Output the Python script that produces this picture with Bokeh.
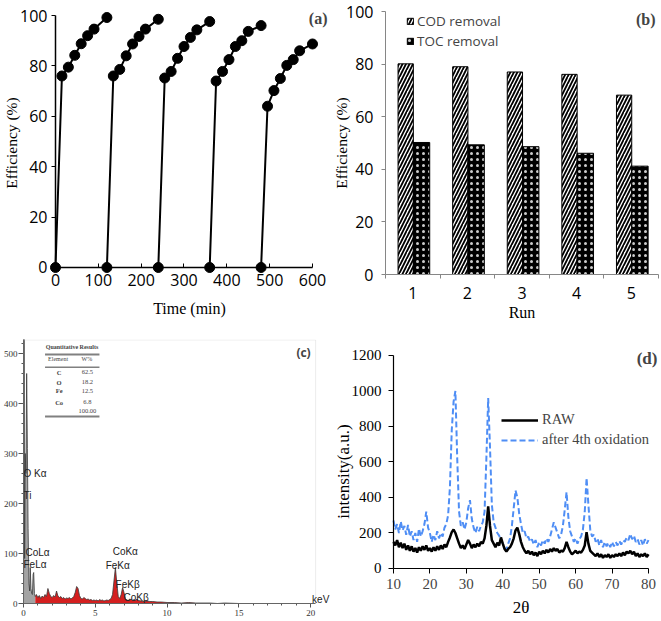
import numpy as np
from bokeh.plotting import figure
from bokeh.models import (Range1d, FixedTicker, SingleIntervalTicker, Label, LinearAxis,
                          Legend, LegendItem, BoxAnnotation)
from bokeh.layouts import column, row
from bokeh.embed import file_html
from bokeh.resources import INLINE

SANS = "Open Sans"
SERIF = "Liberation Serif"
NARROW = "Liberation Sans Narrow"

# ---------------- (a) cycles ----------------
cycle1_time = [0, 15, 30, 45, 60, 75, 90, 120]
cycle1_eff = [0, 76, 79.5, 84.2, 88.8, 92, 94.6, 99.2]
cycle2_time = [120, 135, 150, 165, 180, 195, 210, 240]
cycle2_eff = [0, 76, 78.6, 84, 88.7, 91.7, 94.6, 98.5]
cycle3_time = [240, 255, 270, 285, 300, 315, 330, 360]
cycle3_eff = [0, 75.2, 77.8, 83, 87.7, 91.3, 94.3, 97.6]
cycle4_time = [360, 375, 390, 405, 420, 435, 450, 480]
cycle4_eff = [0, 74, 77.8, 82.5, 87.7, 90, 93.7, 96]
cycle5_time = [480, 495, 510, 525, 540, 555, 570, 600]
cycle5_eff = [0, 64, 70.2, 75, 80.2, 82.5, 86, 88.7]
time_ticks = [0, 100, 200, 300, 400, 500, 600]
eff_ticks = [0, 20, 40, 60, 80, 100]

# ---------------- (b) removal ----------------
runs = [1, 2, 3, 4, 5]
cod_removal = [80.1, 79.0, 77.0, 76.1, 68.2]
toc_removal = [50.2, 49.3, 48.6, 46.1, 41.2]

# ---------------- (c) EDS ----------------
eds_kev = [0.0, 0.04, 0.08, 0.12, 0.17, 0.22, 0.27, 0.32, 0.38, 0.43,
           0.47, 0.52, 0.57, 0.62, 0.67, 0.71, 0.76, 0.82, 0.9, 1.0,
           1.1, 1.2, 1.3, 1.4, 1.5, 1.6, 1.7, 1.8, 1.9, 2.0,
           2.1, 2.2, 2.3, 2.4, 2.5, 2.6, 2.7, 2.8, 2.9, 3.0,
           3.1, 3.2, 3.3, 3.4, 3.5, 3.6, 3.7, 3.8, 3.9, 4.0,
           4.1, 4.2, 4.3, 4.4, 4.5, 4.6, 4.7, 4.8, 4.9, 5.0,
           5.1, 5.2, 5.3, 5.4, 5.5, 5.6, 5.7, 5.8, 5.9, 6.0,
           6.1, 6.2, 6.3, 6.4, 6.5, 6.6, 6.7, 6.8, 6.9, 7.0,
           7.1, 7.2, 7.3, 7.4, 7.5, 7.6, 7.7, 7.8, 7.9, 8.0,
           8.2, 8.4, 8.6, 8.8, 9.0, 9.3, 9.6, 10.0, 10.5, 11.0,
           11.5, 12.0, 12.5, 13.0, 13.5, 14.0, 15.0, 16.0, 17.0, 18.0,
           19.0, 20.0]
eds_counts = [0, 540, 90, 300, 260, 460, 310, 150, 40, 25,
              72, 30, 20, 18, 58, 62, 20, 14, 18, 12,
              16, 10, 15, 12, 18, 14, 30, 20, 14, 12,
              16, 13, 25, 15, 12, 14, 10, 12, 9, 11,
              10, 12, 9, 11, 14, 22, 34, 30, 16, 10,
              9, 12, 10, 8, 9, 7, 8, 6, 7, 6,
              7, 5, 8, 6, 7, 5, 6, 7, 6, 8,
              10, 18, 45, 72, 40, 14, 10, 18, 32, 22,
              10, 7, 6, 7, 9, 6, 8, 6, 9, 6,
              5, 4, 5, 4, 4, 3, 3, 2, 2, 1,
              2, 1, 1, 1, 0, 1, 0, 0, 0, 0,
              0, 0]
table_elements = ["C", "O", "Fe", "Co"]
table_wt = ["62.5", "18.2", "12.5", "6.8"]
table_total = "100.00"

# ---------------- (d) XRD ----------------
raw_intensity = [150, 130, 160, 120, 145, 115, 140, 105, 130, 100,
                 125, 95, 115, 90, 120, 100, 125, 105, 130, 100,
                 115, 95, 120, 100, 125, 105, 130, 110, 135, 120,
                 150, 175, 205, 220, 200, 170, 140, 115, 130, 110,
                 135, 160, 140, 115, 135, 120, 140, 125, 150, 140,
                 170, 240, 350, 240, 160, 140, 120, 145, 130, 175,
                 140, 110, 95, 110, 120, 140, 170, 215, 230, 195,
                 150, 120, 100, 85, 100, 80, 95, 75, 90, 70,
                 95, 80, 100, 85, 105, 90, 110, 95, 115, 100,
                 110, 90, 100, 95, 115, 150, 120, 95, 80, 90,
                 100, 85, 95, 90, 105, 130, 205, 140, 100, 90,
                 80, 70, 85, 65, 80, 60, 75, 65, 80, 60,
                 75, 65, 80, 70, 85, 70, 90, 75, 95, 85,
                 100, 80, 95, 70, 85, 65, 80, 70, 85, 65,
                 80]
oxidized_intensity = [270, 220, 250, 200, 265, 215, 240, 190, 245, 180,
                      210, 160, 200, 150, 225, 180, 210, 250, 320, 230,
                      200, 150, 190, 160, 210, 170, 200, 180, 230, 250,
                      300, 460, 780, 940, 1000, 620, 320, 240, 260, 220,
                      260, 340, 385, 280, 230, 200, 235, 210, 240, 260,
                      320, 620, 960, 680, 360, 260, 230, 200, 185, 160,
                      140, 115, 105, 140, 170, 240, 340, 440, 400, 310,
                      250, 200, 210, 170, 180, 150, 165, 135, 160, 120,
                      150, 130, 160, 140, 170, 150, 180, 220, 260, 230,
                      200, 170, 190, 240, 330, 430, 290, 210, 180, 150,
                      170, 140, 165, 180, 220, 320, 510, 360, 220, 180,
                      190, 150, 170, 130, 160, 120, 150, 125, 145, 120,
                      150, 125, 150, 130, 155, 135, 160, 150, 175, 160,
                      195, 165, 185, 150, 165, 135, 160, 130, 165, 140,
                      160]
two_theta = [10 + 0.5 * i for i in range(len(raw_intensity))]
theta_ticks = [10, 20, 30, 40, 50, 60, 70, 80]
intensity_ticks = [0, 200, 400, 600, 800, 1000, 1200]


def base_fig(w, h, xr, yr, left, right, top, bottom):
    p = figure(width=w, height=h, x_range=Range1d(*xr), y_range=Range1d(*yr),
               output_backend="svg", toolbar_location=None,
               min_border_left=left, min_border_right=right,
               min_border_top=top, min_border_bottom=bottom)
    p.grid.visible = False
    p.outline_line_color = None
    p.background_fill_color = "white"
    p.border_fill_color = "white"
    return p


def style_axis(ax, font, size, color="black", line_color="black"):
    ax.major_label_text_font = font
    ax.major_label_text_font_size = size
    ax.major_label_text_color = color
    ax.axis_line_color = line_color
    ax.major_tick_line_color = line_color
    ax.minor_tick_line_color = None
    ax.axis_label_text_font_style = "normal"
    ax.axis_label_text_color = "black"


def labels_only(ax):
    ax.axis_line_color = None
    ax.major_tick_line_color = None
    ax.minor_tick_line_color = None
    ax.major_tick_in = 0
    ax.major_tick_out = 0


# ================= panel (a) =================
pa = base_fig(330, 335, (-14.0, 639.7), (-2.78, 101.59), 49, 1, 11, 61)
for t, e in [(cycle1_time, cycle1_eff), (cycle2_time, cycle2_eff),
             (cycle3_time, cycle3_eff), (cycle4_time, cycle4_eff),
             (cycle5_time, cycle5_eff)]:
    pa.line(t, e, line_color="black", line_width=2)
    pa.scatter(t, e, size=10, fill_color="black", line_color="black")
xa = pa.xaxis[0]
ya = pa.yaxis[0]
style_axis(xa, SANS, "16px")
style_axis(ya, SANS, "16px")
labels_only(xa)
labels_only(ya)
xa.ticker = FixedTicker(ticks=time_ticks)
xa.major_label_standoff = -1
xa.axis_label = "Time (min)"
xa.axis_label_text_font = SERIF
xa.axis_label_text_font_size = "16px"
xa.axis_label_standoff = 11
ya.ticker = FixedTicker(ticks=eff_ticks)
ya.major_label_standoff = 2
ya.axis_label = "Efficiency (%)"
ya.axis_label_text_font = SERIF
ya.axis_label_text_font_size = "15.5px"
ya.axis_label_standoff = -3
# axis lines through the origin (line + ticks)
xa_line = LinearAxis(fixed_location=0, bounds=(0, 600), ticker=FixedTicker(ticks=time_ticks),
                     major_tick_in=4, major_tick_out=0, major_label_text_color=None,
                     axis_line_width=1.5, minor_tick_line_color=None)
ya_line = LinearAxis(fixed_location=0, bounds=(0, 100), ticker=FixedTicker(ticks=eff_ticks),
                     major_tick_in=0, major_tick_out=4, major_label_text_color=None,
                     axis_line_width=1.5, minor_tick_line_color=None)
pa.add_layout(xa_line, "below")
pa.add_layout(ya_line, "left")
pa.add_layout(Label(x=635, y=99.0, text="(a)", text_font=SERIF, text_font_size="16px",
                    text_font_style="bold", text_align="right", text_baseline="middle"))

# ================= panel (b) =================
pb = base_fig(330, 335, (0.5, 5.5), (0, 100), 55, 2, 11, 61)
cod = pb.vbar(x=[r - 0.13 for r in runs], top=cod_removal, width=0.28,
              fill_color="white", line_color="black", line_width=1,
              hatch_pattern="/", hatch_color="black", hatch_weight=1.8, hatch_scale=7)
toc = pb.vbar(x=[r + 0.16 for r in runs], top=toc_removal, width=0.30,
              fill_color="black", line_color="black", line_width=1,
              hatch_pattern=".", hatch_color="white", hatch_weight=1.2, hatch_scale=6,
              hatch_alpha=0.8)
xb = pb.xaxis[0]
yb = pb.yaxis[0]
style_axis(xb, SANS, "16px", line_color="#868686")
style_axis(yb, SANS, "16px", line_color="#868686")
xb.ticker = FixedTicker(ticks=runs, minor_ticks=[0.5, 1.5, 2.5, 3.5, 4.5, 5.5])
xb.major_tick_line_color = None
xb.major_tick_out = 0
xb.major_tick_in = 0
xb.minor_tick_line_color = "#868686"
xb.minor_tick_out = 4
xb.minor_tick_in = 0
xb.major_label_standoff = 8
xb.axis_label = "Run"
xb.axis_label_text_font = SERIF
xb.axis_label_text_font_size = "16px"
xb.axis_label_standoff = 2
yb.ticker = FixedTicker(ticks=eff_ticks)
yb.major_tick_out = 4
yb.major_tick_in = 0
yb.major_label_standoff = 8
yb.axis_label = "Efficiency (%)"
yb.axis_label_text_font = SERIF
yb.axis_label_text_font_size = "15.5px"
yb.axis_label_standoff = -7
leg_b = Legend(items=[LegendItem(label="COD removal", renderers=[cod]),
                      LegendItem(label="TOC removal", renderers=[toc])],
               location=(21, 224), glyph_width=8, glyph_height=8, label_height=14,
               spacing=2, label_standoff=3, padding=0, margin=0,
               label_text_font=SANS, label_text_font_size="13.5px",
               background_fill_alpha=0, border_line_color=None)
pb.add_layout(leg_b)
pb.add_layout(Label(x=5.445, y=96.96, text="(b)", text_font=SERIF, text_font_size="16px",
                    text_font_style="bold", text_align="right", text_baseline="middle"))

# ================= panel (c) =================
pc = base_fig(330, 285, (0, 21.38), (0, 528), 20, 0, 4, 17)
kev = np.array(eds_kev)
cnt = np.array(eds_counts)
lo = kev <= 0.82
hi = kev >= 0.82
pc.varea(x=kev[lo], y1=0, y2=cnt[lo], fill_color="#a3a3a3")
pc.varea(x=kev[hi], y1=0, y2=cnt[hi], fill_color="#d41f1f")
pc.line(eds_kev, eds_counts, line_color="#3a3a3a", line_width=0.8)
pc.add_layout(BoxAnnotation(left=0, right=20.34, bottom=0, top=527, fill_alpha=0,
                            line_color="#c4c4c4", line_width=1))
xc = pc.xaxis[0]
yc = pc.yaxis[0]
for ax in (xc, yc):
    style_axis(ax, NARROW, "9px", color="#333333", line_color="#555555")
    ax.minor_tick_line_color = "#555555"
    ax.major_tick_out = 4
    ax.major_tick_in = 0
    ax.minor_tick_out = 2
    ax.minor_tick_in = 0
xc.bounds = (0, 20.34)
xc.ticker = SingleIntervalTicker(interval=5, num_minor_ticks=5)
xc.major_label_standoff = 2
yc.ticker = SingleIntervalTicker(interval=100, num_minor_ticks=5)
yc.major_tick_out = 5
yc.major_label_standoff = 1

tab_font = SERIF
pc.add_layout(Label(x=3.38, y=514, text="Quantitative Results", text_font=tab_font,
                    text_font_size="6px", text_font_style="bold", text_align="center",
                    text_baseline="middle"))
pc.add_layout(Label(x=2.41, y=489.4, text="Element", text_font=tab_font, text_font_size="6px",
                    text_align="center", text_baseline="middle"))
pc.add_layout(Label(x=4.41, y=489.4, text="W%", text_font=tab_font, text_font_size="6px",
                    text_align="center", text_baseline="middle"))
for el, wt, yy in zip(table_elements, table_wt, [462.6, 442.6, 426, 402.6]):
    pc.add_layout(Label(x=2.48, y=yy, text=el, text_font=tab_font, text_font_size="6.5px",
                        text_font_style="bold", text_align="center", text_baseline="middle"))
    pc.add_layout(Label(x=4.45, y=yy, text=wt, text_font=tab_font, text_font_size="6.5px",
                        text_align="center", text_baseline="middle"))
pc.add_layout(Label(x=4.45, y=384.6, text=table_total, text_font=tab_font, text_font_size="6.5px",
                    text_align="center", text_baseline="middle"))
for yb0, th in [(498, 2.2), (472.6, 1.6), (374, 2.2)]:
    pc.add_layout(BoxAnnotation(left=1.5, right=5.29, bottom=yb0 - th, top=yb0 + th,
                                fill_color="#808080", fill_alpha=1, line_color=None))

peak_labels = [("O Kα", 0.0, 260), ("Ti", 0.0, 216), ("CoLα", 0.14, 102),
               ("FeLα", 0.0, 78), ("CoKα", 6.21, 104), ("FeKα", 5.72, 77),
               ("FeKβ", 6.41, 38), ("CoKβ", 6.97, 13)]
for txt, xx, yy in peak_labels:
    pc.add_layout(Label(x=xx, y=yy, text=txt, text_font="Liberation Sans", text_font_size="10px",
                        text_color="#222222", text_align="left", text_baseline="middle"))
pc.add_layout(Label(x=21.3, y=9, text="keV", text_font="Liberation Sans", text_font_size="10px",
                    text_color="#222222", text_align="right", text_baseline="middle"))
pc.add_layout(Label(x=20.0, y=502, text="(c)", text_font=SANS, text_font_size="12px",
                    text_font_style="bold", text_align="right", text_baseline="middle"))

# ================= panel (d) =================
pdd = base_fig(330, 285, (7.265, 82.74), (-197.2, 1290.1), 52, 2, 4, 17)
ox = pdd.line(two_theta, oxidized_intensity, line_color="#4f8ef5", line_width=2, line_dash="6 3")
rw = pdd.line(two_theta, raw_intensity, line_color="black", line_width=2.5)
xd = pdd.xaxis[0]
yd = pdd.yaxis[0]
style_axis(xd, SERIF, "15px")
style_axis(yd, SERIF, "15px")
labels_only(xd)
labels_only(yd)
xd.ticker = FixedTicker(ticks=[])
xd.major_label_standoff = 0
xd.axis_label = "2θ"
xd.axis_label_text_font = SERIF
xd.axis_label_text_font_size = "17px"
xd.axis_label_standoff = -6
yd.ticker = FixedTicker(ticks=intensity_ticks)
yd.major_label_standoff = 2
yd.axis_label = "intensity(a.u.)"
yd.axis_label_text_font = SERIF
yd.axis_label_text_font_size = "17px"
yd.axis_label_standoff = -4
xd_line = LinearAxis(fixed_location=0, bounds=(10, 80), ticker=FixedTicker(ticks=theta_ticks),
                     major_tick_in=0, major_tick_out=5, major_label_standoff=6,
                     major_label_text_font=SERIF, major_label_text_font_size="15px",
                     axis_line_width=1.2, minor_tick_line_color=None)
yd_line = LinearAxis(fixed_location=10, bounds=(0, 1200), ticker=FixedTicker(ticks=intensity_ticks),
                     major_tick_in=0, major_tick_out=5, major_label_text_color=None,
                     axis_line_width=1.2, minor_tick_line_color=None)
pdd.add_layout(xd_line, "below")
pdd.add_layout(yd_line, "left")
leg_d = Legend(items=[LegendItem(label="RAW", renderers=[rw]),
                      LegendItem(label="after 4th oxidation", renderers=[ox])],
               location=(118, 155), glyph_width=37, glyph_height=14, label_height=14,
               spacing=3, label_standoff=4, padding=0, margin=0,
               label_text_font=SERIF, label_text_font_size="14.5px",
               background_fill_alpha=0, border_line_color=None)
pdd.add_layout(leg_d)
pdd.add_layout(Label(x=82.46, y=1183, text="(d)", text_font=SERIF, text_font_size="17px",
                     text_font_style="bold", text_align="right", text_baseline="middle"))

layout = column(row(pa, pb), row(pc, pdd))
open("out.html", "w").write(file_html(layout, INLINE))
